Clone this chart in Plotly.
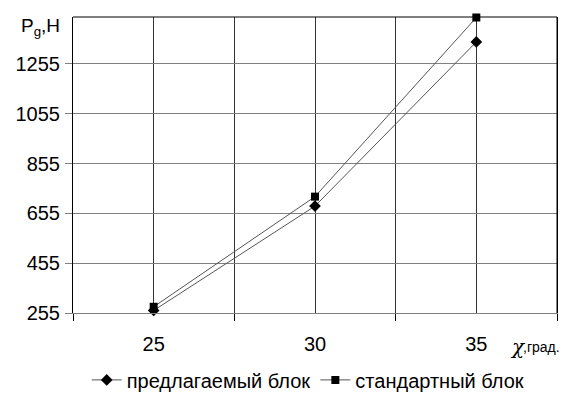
import plotly.graph_objects as go

angles = [25, 30, 35]
proposed = [265, 684, 1343]
standard = [280, 722, 1441]
y_ticks = [255, 455, 655, 855, 1055, 1255]
series_names = ["предлагаемый блок", "стандартный блок"]

FONT = "Liberation Sans, Arial, sans-serif"

fig = go.Figure()
fig.add_trace(go.Scatter(
    x=angles, y=proposed, name=series_names[0], mode="lines+markers",
    line=dict(color="#555555", width=1),
    marker=dict(symbol="diamond", size=9, color="black"),
    cliponaxis=False,
))
fig.add_trace(go.Scatter(
    x=angles, y=standard, name=series_names[1], mode="lines+markers",
    line=dict(color="#555555", width=1),
    marker=dict(symbol="square", size=8, color="black"),
    cliponaxis=False,
))

# page has an 8px body margin, so the figure is 8px smaller and shifted
fig.update_layout(
    width=571, height=392,
    margin=dict(l=65, r=22, t=9, b=87, autoexpand=False),
    paper_bgcolor="white", plot_bgcolor="white",
    font=dict(family=FONT, size=20, color="black"),
    showlegend=True,
    legend=dict(orientation="h", x=0.486, xanchor="center", y=-0.226, yanchor="middle",
                font=dict(size=20), itemwidth=30, tracegroupgap=0),
    xaxis=dict(
        automargin=False,
        range=[22.5, 37.5], tickmode="array", tickvals=angles,
        ticktext=[str(a) for a in angles], ticks="", showgrid=True,
        gridcolor="#333333", gridwidth=1, zeroline=False,
        showline=True, linecolor="#808080", linewidth=1,
        ticklabelstandoff=13,
        minor=dict(tickmode="array", tickvals=[22.5, 27.5, 32.5, 37.5],
                   ticks="outside", ticklen=7, tickcolor="black",
                   showgrid=True, gridcolor="#333333", gridwidth=1),
    ),
    yaxis=dict(
        automargin=False,
        range=[255, 1443], tickmode="array", tickvals=y_ticks,
        ticks="outside", ticklen=7, tickcolor="#808080",
        showgrid=True, gridcolor="#808080", gridwidth=1, zeroline=False,
        showline=True, linecolor="black", linewidth=1, mirror=True,
        ticklabelstandoff=1,
    ),
)

fig.add_shape(type="line", xref="paper", yref="paper", x0=0, x1=1, y0=1, y1=1,
              line=dict(color="black", width=1))
fig.add_shape(type="line", xref="paper", yref="paper", x0=1, x1=1, y0=0, y1=1,
              line=dict(color="black", width=1))

fig.add_annotation(xref="paper", yref="paper", x=-0.022, y=1.0, xanchor="right", yanchor="top",
                   yshift=4, text="P<sub style='font-size:10px'>g</sub>,H", showarrow=False,
                   font=dict(size=19))
fig.add_annotation(xref="paper", yref="paper", x=0.898, y=-0.115, xanchor="left", yanchor="middle",
                   text="<i>χ</i>", showarrow=False,
                   font=dict(size=20, family="DejaVu Serif, serif"))
fig.add_annotation(xref="paper", yref="paper", x=0.925, y=-0.115, xanchor="left", yanchor="middle",
                   text=",град.", showarrow=False,
                   font=dict(size=14, family=FONT))

fig.write_html("out.html")
